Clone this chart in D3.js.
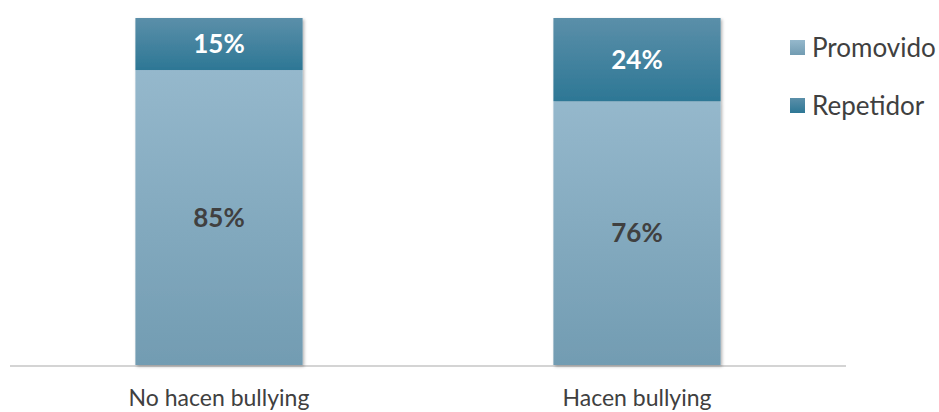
<!DOCTYPE html>
<html lang="es">
<head>
<meta charset="UTF-8">
<title>Bullying</title>
<script src="https://d3js.org/d3.v7.min.js"></script>
<style>
  body { margin: 0; background: #fff; }
  text { font-family: Lato, "Open Sans", sans-serif; }
</style>
</head>
<body>
<svg id="chart" width="939" height="412"></svg>
<script>
const categories = ["No hacen bullying", "Hacen bullying"];
const seriesNames = ["Promovido", "Repetidor"];
const promovido = [85, 76];
const repetidor = [15, 24];

const svg = d3.select("#chart");
const plotTop = 18, plotBottom = 365;

const defs = svg.append("defs");
function grad(id, c1, c2) {
  const g = defs.append("linearGradient").attr("id", id)
    .attr("x1", 0).attr("y1", 0).attr("x2", 0).attr("y2", 1);
  g.append("stop").attr("offset", "0%").attr("stop-color", c1);
  g.append("stop").attr("offset", "100%").attr("stop-color", c2);
}
grad("gPro", "#95b8cc", "#729cb2");
grad("gRep", "#5b8fa9", "#2d7795");

const f = defs.append("filter").attr("id", "shadow")
  .attr("x", "-10%").attr("y", "-10%").attr("width", "120%").attr("height", "120%");
f.append("feDropShadow").attr("dx", 1.5).attr("dy", 1.5).attr("stdDeviation", 1.5)
  .attr("flood-color", "#000").attr("flood-opacity", 0.3);

const x = d3.scaleBand().domain(categories).range([10, 846])
  .paddingInner(0.6).paddingOuter(0.3);
const y = d3.scaleLinear().domain([0, 100]).range([plotBottom, plotTop]);

const data = categories.map((c, i) => ({ cat: c, pro: promovido[i], rep: repetidor[i] }));

// axis line
svg.append("line").attr("x1", 10).attr("x2", 846).attr("y1", plotBottom + 1).attr("y2", plotBottom + 1)
  .attr("stroke", "#d4d4d4").attr("stroke-width", 2);

const g = svg.selectAll("g.bar").data(data).join("g").attr("class", "bar")
  .attr("filter", "url(#shadow)");
g.append("rect")
  .attr("x", d => x(d.cat)).attr("width", x.bandwidth())
  .attr("y", d => y(d.pro)).attr("height", d => y(0) - y(d.pro))
  .attr("fill", "url(#gPro)");
g.append("rect")
  .attr("x", d => x(d.cat)).attr("width", x.bandwidth())
  .attr("y", d => y(d.pro + d.rep)).attr("height", d => y(d.pro) - y(d.pro + d.rep))
  .attr("fill", "url(#gRep)");

svg.selectAll("text.pro").data(data).join("text").attr("class", "pro")
  .attr("x", d => x(d.cat) + x.bandwidth() / 2)
  .attr("y", d => y(d.pro / 2) + 9)
  .attr("text-anchor", "middle").attr("font-size", 26).attr("font-weight", "bold")
  .attr("fill", "#404040").text(d => d.pro + "%");

svg.selectAll("text.rep").data(data).join("text").attr("class", "rep")
  .attr("x", d => x(d.cat) + x.bandwidth() / 2)
  .attr("y", d => y(d.pro + d.rep / 2) + 9)
  .attr("text-anchor", "middle").attr("font-size", 26).attr("font-weight", "bold")
  .attr("fill", "#fff").text(d => d.rep + "%");

svg.selectAll("text.cat").data(categories).join("text").attr("class", "cat")
  .attr("x", d => x(d) + x.bandwidth() / 2).attr("y", 406)
  .attr("text-anchor", "middle").attr("font-size", 23).attr("fill", "#404040")
  .text(d => d);

// legend
const lg = svg.selectAll("g.leg").data(seriesNames).join("g").attr("class", "leg")
  .attr("transform", (d, i) => `translate(790,${40 + i * 58})`);
lg.append("rect").attr("width", 15).attr("height", 15)
  .attr("fill", (d, i) => i === 0 ? "url(#gPro)" : "url(#gRep)");
lg.append("text").attr("x", 22).attr("y", 17).attr("font-size", 26)
  .attr("fill", "#404040").text(d => d);
</script>
</body>
</html>
